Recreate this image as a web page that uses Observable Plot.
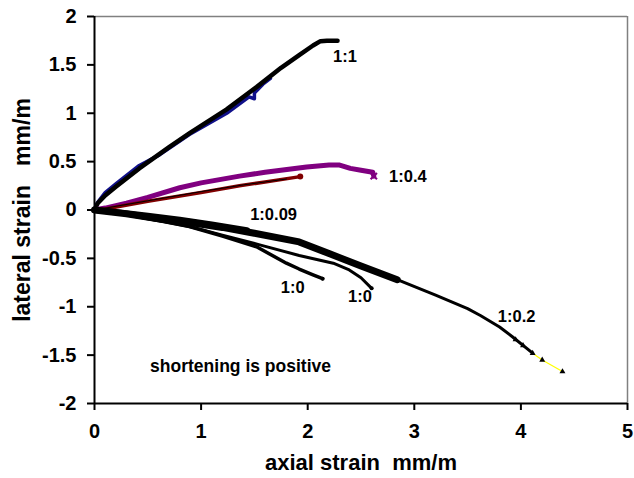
<!DOCTYPE html>
<html><head><meta charset="utf-8">
<script src="https://cdn.jsdelivr.net/npm/d3@7"></script>
<script src="https://cdn.jsdelivr.net/npm/@observablehq/plot@0.6"></script>
<style>
body{margin:0;background:#fff;}
</style>
</head><body><div id="chart"></div>
<script>
// tick labels
const xTicks = [0, 1, 2, 3, 4, 5];
const yTicks = [-2, -1.5, -1, -0.5, 0, 0.5, 1, 1.5, 2];

// series: [axial strain, lateral strain] in mm/m
const ratio11Black = [[0,0],[0.03,0.07],[0.1,0.15],[0.2,0.24],[0.42,0.43],[0.7,0.65],[0.9,0.8],[1.24,1.04],[1.52,1.27],[1.75,1.47],[1.92,1.6],[2.05,1.7],[2.12,1.745],[2.18,1.75],[2.28,1.75]];
const ratio11Blue = [[0,0],[0.03,0.08],[0.1,0.18],[0.2,0.27],[0.42,0.46],[0.61,0.57],[0.89,0.78],[1.24,1.0],[1.45,1.17],[1.5,1.15],[1.5,1.21],[1.58,1.3],[1.65,1.36]];
const ratio04Purple = [[0,0],[0.1,0.02],[0.3,0.07],[0.5,0.13],[0.8,0.23],[1.0,0.28],[1.36,0.35],[1.6,0.39],[1.99,0.445],[2.2,0.465],[2.3,0.465],[2.4,0.43],[2.5,0.41],[2.61,0.39],[2.62,0.35]];
const ratio04Red = [[0,0],[0.1,0.01],[0.5,0.09],[1.0,0.18],[1.36,0.25],[1.6,0.29],[1.93,0.345]];
const ratio04Thin = [[0,0],[0.5,0.095],[1.0,0.19],[1.4,0.26],[1.8,0.32]];
const ratio009 = [[0,0],[0.2,-0.02],[0.5,-0.06],[0.8,-0.1],[1.1,-0.15],[1.43,-0.21]];
const ratio02Band = [[0,0],[0.3,-0.04],[0.6,-0.09],[0.9,-0.13],[1.2,-0.18],[1.5,-0.24],[1.92,-0.33],[2.2,-0.45],[2.5,-0.58],[2.84,-0.72]];
const ratio02Tail = [[2.84,-0.72],[3.2,-0.88],[3.5,-1.02],[3.62,-1.09],[3.8,-1.21],[3.92,-1.31],[4.11,-1.48]];
const ratio02Yellow = [[4.11,-1.48],[4.2,-1.55],[4.39,-1.67]];
const ratio02Markers = [[3.95,-1.34],[4.02,-1.4],[4.11,-1.48],[4.2,-1.55],[4.39,-1.67]];
const ratio0a = [[0,0],[0.3,-0.05],[0.6,-0.11],[0.89,-0.17],[1.2,-0.27],[1.52,-0.38],[1.8,-0.55],[1.92,-0.61],[2.05,-0.67],[2.14,-0.71]];
const ratio0b = [[0,0],[0.3,-0.05],[0.6,-0.11],[0.89,-0.17],[1.2,-0.26],[1.55,-0.36],[1.92,-0.47],[2.24,-0.55],[2.39,-0.62],[2.5,-0.7],[2.6,-0.81]];

// annotations
const labelText = ["1:1", "1:0.4", "1:0.09", "1:0", "1:0", "1:0.2"];
const labelX = [2.35, 2.94, 1.68, 1.86, 2.49, 3.96];
const labelY = [1.58, 0.34, -0.05, -0.8, -0.9, -1.1];
const labels = labelText.map((t, i) => ({t, x: labelX[i], y: labelY[i]}));
const note = [{t: "shortening is positive", x: 1.37, y: -1.62}];

const X = d => d[0], Y = d => d[1];
const ln = (data, o) => Plot.line(data, {x: X, y: Y, strokeLinejoin: "round", strokeLinecap: "round", ...o});

const chart = Plot.plot({
  width: 634, height: 478,
  marginLeft: 94, marginRight: 7, marginTop: 16, marginBottom: 75,
  x: {domain: [0, 5]},
  y: {domain: [-2, 2]},
  style: {fontFamily: "'Liberation Sans', Arial, sans-serif", fontWeight: "bold", fontSize: "19px", background: "#fff", color: "#000", overflow: "visible"},
  marks: [
    Plot.ruleY([2], {stroke: "#808080", strokeWidth: 1.5}),
    Plot.ruleX([5], {stroke: "#808080", strokeWidth: 1.5}),
    Plot.axisX({ticks: xTicks, tickSize: 7, tickPadding: 13, tickFormat: d => String(d), label: null, strokeWidth: 2, fontSize: 20}),
    Plot.axisY({ticks: yTicks, tickSize: 7, tickPadding: 11, tickFormat: d => String(d), label: null, strokeWidth: 2, fontSize: 20}),
    Plot.ruleX([0], {strokeWidth: 2}),
    Plot.ruleY([-2], {strokeWidth: 2}),
    ln(ratio11Blue, {stroke: "#10108a", strokeWidth: 3.5}),
    ln(ratio11Black, {stroke: "#000", strokeWidth: 4.5}),
    ln(ratio04Purple, {stroke: "#800080", strokeWidth: 5}),
    ln(ratio04Red, {stroke: "#800000", strokeWidth: 3.5}),
    ln(ratio04Thin, {stroke: "#000", strokeWidth: 1}),
    Plot.dot([ratio04Red[ratio04Red.length - 1]], {x: X, y: Y, r: 3, fill: "#800000"}),
    Plot.dot([ratio04Purple[ratio04Purple.length - 1]], {x: X, y: Y, r: 3, symbol: "times", stroke: "#800080", strokeWidth: 2}),
    ln(ratio02Band, {stroke: "#000", strokeWidth: 7}),
    ln(ratio009, {stroke: "#000", strokeWidth: 6}),
    ln(ratio02Tail, {stroke: "#000", strokeWidth: 3}),
    ln(ratio02Yellow, {stroke: "#ffff00", strokeWidth: 1.2}),
    Plot.dot(ratio02Markers, {x: X, y: Y, r: 2.2, symbol: "triangle", fill: "#000"}),
    ln(ratio0a, {stroke: "#000", strokeWidth: 3.5}),
    ln(ratio0b, {stroke: "#000", strokeWidth: 3}),
    Plot.dot([ratio0a[ratio0a.length - 1], ratio0b[ratio0b.length - 1]], {x: X, y: Y, r: 2, fill: "#000"}),
    Plot.text(labels, {x: "x", y: "y", text: "t", fontSize: 16.5, fontWeight: "bold", fill: "#000"}),
    Plot.text(note, {x: "x", y: "y", text: "t", fontSize: 17.5, fontWeight: "bold", fill: "#000"}),
    Plot.text(["axial strain\u00a0\u00a0mm/m"], {frameAnchor: "bottom", dy: 66, text: d => d, fontSize: 22, fontWeight: "bold"}),
    Plot.text(["lateral strain\u00a0\u00a0\u00a0mm/m"], {frameAnchor: "left", dx: -72, rotate: -90, textAnchor: "middle", text: d => d, fontSize: 23, fontWeight: "bold"})
  ]
});
document.getElementById("chart").appendChild(chart);
</script>
</body></html>
